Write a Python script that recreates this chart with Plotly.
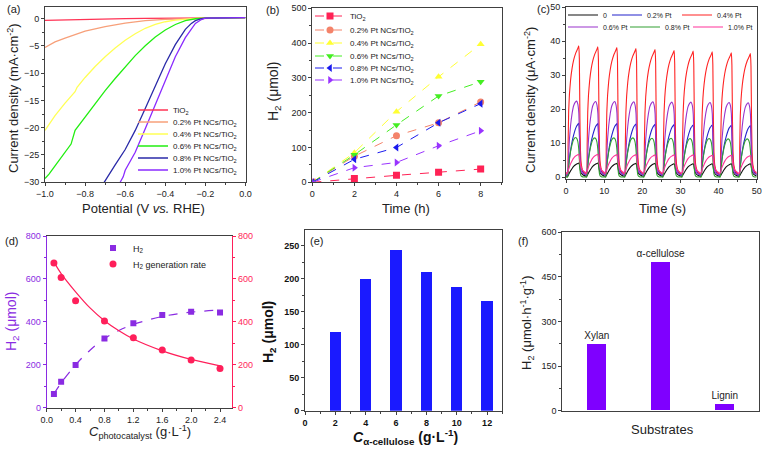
import plotly.graph_objects as go

W, H = 767, 450
FONT = "Liberation Sans, Arial, sans-serif"
AXC = "#404040"

# ---------------- (a) LSV curves ----------------
lsv_names = ["TiO<sub>2</sub>", "0.2% Pt NCs/TiO<sub>2</sub>", "0.4% Pt NCs/TiO<sub>2</sub>",
             "0.6% Pt NCs/TiO<sub>2</sub>", "0.8% Pt NCs/TiO<sub>2</sub>", "1.0% Pt NCs/TiO<sub>2</sub>"]
lsv_colors = ["#ff3355", "#f7a07a", "#ffff55", "#22ee11", "#2a2aa8", "#8a2bff"]
pot_tio2 = [-1.0, -0.9, -0.8, -0.7, -0.6, -0.5, -0.4, -0.2, 0.0]
j_tio2 = [-0.35, -0.25, -0.15, -0.08, -0.03, 0.0, 0.05, 0.1, 0.15]
pot_02 = [-1.0, -0.95, -0.9, -0.85, -0.8, -0.75, -0.7, -0.6, -0.5, -0.4, -0.3, -0.2, 0.0]
j_02 = [-5.3, -4.3, -3.6, -2.9, -2.3, -1.9, -1.5, -0.85, -0.4, -0.15, -0.05, 0.05, 0.15]
pot_04 = [-1.0, -0.95, -0.9, -0.85, -0.84, -0.8, -0.75, -0.7, -0.65, -0.6, -0.55, -0.5, -0.45, -0.4,
          -0.35, -0.3, -0.25, -0.2, 0.0]
j_04 = [-20.5, -17.8, -15.5, -13.4, -12.6, -10.8, -8.8, -7.0, -5.4, -4.0, -2.8, -1.8, -1.1, -0.6,
        -0.3, -0.1, 0.0, 0.05, 0.15]
pot_06 = [-1.0, -0.98, -0.95, -0.9, -0.87, -0.85, -0.8, -0.75, -0.7, -0.65, -0.6, -0.55, -0.5,
          -0.45, -0.4, -0.35, -0.3, -0.25, -0.2, 0.0]
j_06 = [-29.3, -28.5, -27.0, -24.5, -23.0, -20.5, -18.0, -15.5, -13.2, -11.0, -8.8, -6.8, -5.0,
        -3.4, -2.1, -1.1, -0.4, -0.05, 0.05, 0.15]
pot_08 = [-0.705, -0.68, -0.65, -0.6, -0.55, -0.5, -0.45, -0.4, -0.35, -0.3, -0.27, -0.25, -0.22, -0.2, 0.0]
j_08 = [-30.0, -28.5, -26.8, -24.0, -20.5, -16.5, -12.5, -8.3, -4.8, -2.0, -0.9, -0.4, -0.05, 0.05, 0.15]
pot_10 = [-0.625, -0.61, -0.6, -0.55, -0.5, -0.45, -0.4, -0.35, -0.3, -0.27, -0.25, -0.22, -0.2, 0.0]
j_10 = [-30.0, -29.0, -27.8, -24.5, -20.2, -15.8, -11.2, -7.0, -3.5, -1.8, -0.9, -0.2, 0.05, 0.15]
lsv_x = [pot_tio2, pot_02, pot_04, pot_06, pot_08, pot_10]
lsv_y = [j_tio2, j_02, j_04, j_06, j_08, j_10]

# ---------------- (b) H2 vs time ----------------
time_h = [0, 2, 4, 6, 8]
h2_time = [
    [0, 11, 20, 29, 38],
    [0, 75, 134, 171, 231],
    [0, 85, 203, 303, 397],
    [0, 79, 165, 248, 289],
    [0, 66, 100, 171, 226],
    [0, 42, 57, 105, 148],
]
b_colors = ["#ff2255", "#f4836a", "#ffff33", "#44ee22", "#1a1aee", "#9933ff"]
b_symbols = ["square", "circle", "triangle-up", "triangle-down", "triangle-left", "triangle-right"]

# ---------------- (c) transient photocurrent ----------------
c_names = ["0", "0.2% Pt", "0.4% Pt", "0.6% Pt", "0.8% Pt", "1.0% Pt"]
c_colors = ["#111111", "#2222cc", "#ff2222", "#9933cc", "#33a033", "#ff3399"]
cycle_period = 5.0
cycle_offsets = [0.0, 0.4, 0.55, 0.7, 0.9, 1.2, 1.6, 2.0, 2.5, 2.8, 3.1, 3.35, 3.5, 3.65, 3.8, 4.0, 4.4]
shape_black = [0.10, 0.08, 0.12, 0.20, 0.30, 0.45, 0.62, 0.76, 0.88, 0.93, 0.97, 1.0, 0.90, 0.65, 0.45, 0.30, 0.18]
shape_blue = [0.05, 0.04, 0.10, 0.22, 0.35, 0.50, 0.66, 0.78, 0.90, 0.95, 0.98, 1.0, 0.85, 0.50, 0.30, 0.18, 0.10]
shape_red = [0.03, 0.02, 0.25, 0.50, 0.63, 0.74, 0.83, 0.89, 0.94, 0.96, 0.98, 1.0, 0.90, 0.45, 0.20, 0.10, 0.05]
shape_purple = [0.04, 0.03, 0.12, 0.30, 0.50, 0.68, 0.84, 0.94, 0.99, 1.0, 0.96, 0.85, 0.60, 0.30, 0.15, 0.08, 0.05]
shape_green = [0.01, 0.0, 0.08, 0.25, 0.45, 0.65, 0.83, 0.95, 1.0, 0.98, 0.90, 0.70, 0.45, 0.20, 0.08, 0.03, 0.01]
shape_pink = [0.22, 0.18, 0.25, 0.35, 0.45, 0.58, 0.72, 0.83, 0.92, 0.95, 0.98, 1.0, 0.90, 0.70, 0.55, 0.42, 0.30]
c_shapes = [shape_black, shape_blue, shape_red, shape_purple, shape_green, shape_pink]
peaks_black = [4.2, 4.2, 4.1, 4.1, 4.1, 4.0, 4.0, 4.0, 4.0, 4.0]
peaks_blue = [15.9, 15.8, 15.8, 15.7, 15.6, 15.5, 15.4, 15.4, 15.3, 15.2]
peaks_red = [38.7, 38.4, 38.2, 37.9, 37.6, 37.3, 37.1, 36.9, 36.6, 36.4]
peaks_purple = [22.4, 22.3, 22.3, 22.2, 22.2, 22.1, 22.1, 22.0, 22.0, 21.9]
peaks_green = [11.7, 11.6, 11.6, 11.6, 11.5, 11.5, 11.4, 11.4, 11.3, 11.3]
peaks_pink = [6.8, 6.8, 6.7, 6.7, 6.6, 6.6, 6.6, 6.5, 6.5, 6.4]
c_peaks = [peaks_black, peaks_blue, peaks_red, peaks_purple, peaks_green, peaks_pink]

# ---------------- (d) catalyst concentration ----------------
c_cat = [0.1, 0.2, 0.4, 0.8, 1.2, 1.6, 2.0, 2.4]
h2_cat = [64, 121, 199, 323, 393, 432, 447, 444]
rate_cat = [674, 607, 498, 404, 326, 269, 222, 183]
fit_c = [0.1, 0.2, 0.4, 0.6, 0.8, 1.0, 1.2, 1.6, 2.0, 2.4]
fit_h2 = [65, 115, 200, 268, 322, 360, 388, 425, 445, 455]
fit_rate = [678, 625, 540, 465, 405, 358, 320, 265, 225, 195]

# ---------------- (e) cellulose concentration ----------------
c_cell = [2, 4, 6, 8, 10, 12]
h2_cell = [120, 200, 243, 210, 188, 167]

# ---------------- (f) substrates ----------------
substrates = ["Xylan", "α-cellulose", "Lignin"]
h2_sub = [222, 500, 20]


def xdom(x0, x1):
    return [x0 / W, x1 / W]


def ydom(top, bottom):
    return [1 - bottom / H, 1 - top / H]


def axis(**kw):
    d = dict(showline=True, linecolor=AXC, linewidth=1, mirror=True, ticks="outside",
             ticklen=3, tickwidth=1, tickcolor=AXC, showgrid=False, zeroline=False,
             automargin=False,
             tickfont=dict(size=9, family=FONT, color="#222"),
             minor=dict(ticks="outside", ticklen=2, tickcolor=AXC))
    d.update(kw)
    return d


fig = go.Figure()
legend_defs = {}
leg_counter = [0]


def new_legend(x_px, y_px, size=8):
    leg_counter[0] += 1
    name = "legend" if leg_counter[0] == 1 else "legend%d" % leg_counter[0]
    legend_defs[name] = dict(x=x_px / W, y=1 - y_px / H, xanchor="left", yanchor="middle",
                             xref="paper", yref="paper", bgcolor="rgba(0,0,0,0)", borderwidth=0,
                             font=dict(size=size, family=FONT, color="#222"), itemwidth=30,
                             tracegroupgap=0)
    return name


# (a)
a_rows = [110, 122, 134, 146, 158, 170]
for i in range(6):
    fig.add_trace(go.Scatter(x=lsv_x[i], y=lsv_y[i], mode="lines", name=lsv_names[i],
                             line=dict(color=lsv_colors[i], width=1.3),
                             xaxis="x", yaxis="y", legend=new_legend(133, a_rows[i], 8)))

# (b)
b_rows = [16, 30, 43, 56, 68, 80]
for i in range(6):
    fig.add_trace(go.Scatter(x=time_h, y=h2_time[i], mode="lines+markers", name=lsv_names[i],
                             line=dict(color=b_colors[i], width=1, dash="dash"),
                             marker=dict(symbol=b_symbols[i], size=7, color=b_colors[i]),
                             xaxis="x2", yaxis="y2", legend=new_legend(310, b_rows[i], 8)))

# (c)
c_leg_pos = [(563, 15), (607, 15), (677, 15), (563, 27), (625, 27), (688, 27)]
for i in range(6):
    tx, ty = [], []
    for k, pk in enumerate(c_peaks[i]):
        for off, s in zip(cycle_offsets, c_shapes[i]):
            tx.append(k * cycle_period + off)
            ty.append(pk * s)
    tx.append(50.0)
    ty.append(c_peaks[i][-1] * c_shapes[i][0])
    fig.add_trace(go.Scatter(x=tx, y=ty, mode="lines", name=c_names[i],
                             line=dict(color=c_colors[i], width=1.1, shape="spline", smoothing=0.4),
                             xaxis="x3", yaxis="y3",
                             legend=new_legend(c_leg_pos[i][0], c_leg_pos[i][1], 7)))

# (d)
PUR = "#8a2be2"
PNK = "#ff1f5a"
fig.add_trace(go.Scatter(x=fit_c, y=fit_h2, mode="lines", showlegend=False,
                         line=dict(color=PUR, width=1.2, dash="dash", shape="spline"),
                         xaxis="x4", yaxis="y4"))
fig.add_trace(go.Scatter(x=fit_c, y=fit_rate, mode="lines", showlegend=False,
                         line=dict(color=PNK, width=1.2, shape="spline"), xaxis="x4", yaxis="y7"))
fig.add_trace(go.Scatter(x=c_cat, y=h2_cat, mode="markers", name="H<sub>2</sub>",
                         marker=dict(symbol="square", size=6, color=PUR),
                         xaxis="x4", yaxis="y4", legend=new_legend(93, 248, 9)))
fig.add_trace(go.Scatter(x=c_cat, y=rate_cat, mode="markers", name="H<sub>2</sub> generation rate",
                         marker=dict(symbol="circle", size=7, color=PNK),
                         xaxis="x4", yaxis="y7", legend=new_legend(93, 264, 9)))

# (e)
fig.add_trace(go.Bar(x=c_cell, y=h2_cell, width=0.75, marker=dict(color="#1a1aff", line=dict(width=0)),
                     showlegend=False, xaxis="x5", yaxis="y5"))

# (f)
fig.add_trace(go.Bar(x=substrates, y=h2_sub, width=0.3, text=substrates, textposition="outside",
                     constraintext="none", textangle=0,
                     textfont=dict(size=10, family=FONT, color="#222"), cliponaxis=False,
                     marker=dict(color="#7f00ff", line=dict(width=0)),
                     showlegend=False, xaxis="x6", yaxis="y6"))

layout = dict(
    width=W, height=H, margin=dict(l=0, r=0, t=0, b=0, pad=0, autoexpand=False),
    paper_bgcolor="white", plot_bgcolor="white",
    font=dict(family=FONT, color="#222"),
    bargap=0,
    uniformtext=dict(mode=False),
    xaxis=axis(domain=xdom(45, 245.5), anchor="y", range=[-1.0, 0.0], dtick=0.2, tickformat=".1f",
               minor=dict(ticks="outside", ticklen=2, tickcolor=AXC, dtick=0.1)),
    yaxis=axis(domain=ydom(7, 182.3), anchor="x", range=[-30, 2.1], dtick=5,
               minor=dict(ticks="outside", ticklen=2, tickcolor=AXC, dtick=2.5)),
    xaxis2=axis(domain=xdom(312.3, 501.7), anchor="y2", range=[0, 9], dtick=2,
                minor=dict(ticks="outside", ticklen=2, tickcolor=AXC, dtick=1)),
    yaxis2=axis(domain=ydom(8.3, 182.3), anchor="x2", range=[0, 500], dtick=100,
                minor=dict(ticks="outside", ticklen=2, tickcolor=AXC, dtick=50)),
    xaxis3=axis(domain=xdom(566, 756.7), anchor="y3", range=[0, 50], dtick=10,
                minor=dict(ticks="outside", ticklen=2, tickcolor=AXC, dtick=5)),
    yaxis3=axis(domain=ydom(7.3, 179), anchor="x3", range=[-0.5, 50], dtick=10,
                minor=dict(ticks="outside", ticklen=2, tickcolor=AXC, dtick=5)),
    xaxis4=axis(domain=xdom(46.7, 232.3), anchor="y4", range=[0, 2.57], dtick=0.4, tickformat=".1f",
                minor=dict(ticks="outside", ticklen=2, tickcolor=AXC, dtick=0.2)),
    yaxis4=axis(domain=ydom(236, 407.7), anchor="x4", range=[0, 800], dtick=200, mirror=False,
                linecolor=PUR, tickcolor=PUR, tickfont=dict(size=9, family=FONT, color=PUR),
                minor=dict(ticks="outside", ticklen=2, tickcolor=PUR, dtick=100)),
    yaxis7=axis(domain=ydom(236, 407.7), anchor="x4", overlaying="y4", side="right", range=[0, 800],
                dtick=200, mirror=False, linecolor=PNK, tickcolor=PNK,
                tickfont=dict(size=9, family=FONT, color=PNK),
                minor=dict(ticks="outside", ticklen=2, tickcolor=PNK, dtick=100)),
    xaxis5=axis(domain=xdom(305, 502.3), anchor="y5", range=[0, 13], dtick=2,
                tickfont=dict(size=9, family=FONT, color="#111", weight="bold"),
                minor=dict(ticks="outside", ticklen=2, tickcolor=AXC, dtick=1)),
    yaxis5=axis(domain=ydom(230, 410.7), anchor="x5", range=[0, 274], dtick=50,
                tickfont=dict(size=9, family=FONT, color="#111", weight="bold"),
                minor=dict(ticks="outside", ticklen=2, tickcolor=AXC, dtick=25)),
    xaxis6=axis(domain=xdom(562.3, 759), anchor="y6", range=[-0.54, 2.54], showticklabels=False,
                ticks="", minor=dict(ticks="")),
    yaxis6=axis(domain=ydom(232.3, 410.7), anchor="x6", range=[0, 600], dtick=150,
                minor=dict(ticks="outside", ticklen=2, tickcolor=AXC, dtick=75)),
)
layout.update(legend_defs)


def ann(text, x_px, y_px, size=12, angle=0, color="#222", xanchor="center"):
    return dict(text=text, x=x_px / W, y=1 - y_px / H, xref="paper", yref="paper",
                showarrow=False, textangle=angle, xanchor=xanchor, yanchor="middle",
                font=dict(size=size, family=FONT, color=color))


annotations = [
    ann("(a)", 13, 9, 11), ann("(b)", 272, 10, 11), ann("(c)", 543, 9, 11),
    ann("(d)", 11, 241, 11), ann("(e)", 316, 241, 11), ann("(f)", 523, 241, 11),
    ann("Current density (mA·cm<sup>-2</sup>)", 13, 98, 13, -90),
    ann("Potential (V <i>vs.</i> RHE)", 143, 208, 13),
    ann("H<sub>2</sub> (μmol)", 274, 92, 14, -90),
    ann("Time (h)", 406, 208, 13),
    ann("Current density (μA·cm<sup>-2</sup>)", 530, 100, 13, -90),
    ann("Time (s)", 662, 208, 13),
    ann("H<sub>2</sub> (μmol)", 12, 322, 14, -90, PUR),
    ann("<i>C</i><sub>photocatalyst</sub> (g·L<sup>-1</sup>)", 140, 432, 13),
    ann("<b>H<sub>2</sub> (μmol)</b>", 269, 332, 14, -90, "#111"),
    ann("<b><i>C</i><sub>α-cellulose</sub> (g·L<sup>-1</sup>)</b>", 405, 437, 14, 0, "#111"),
    ann("H<sub>2</sub> (μmol·h<sup>-1</sup>·g<sup>-1</sup>)", 527, 323, 13, -90),
    ann("Substrates", 662, 429, 13),
]
layout["annotations"] = annotations

fig.update_layout(**layout)
fig.write_html(
    "out.html",
    config={"displayModeBar": False},
    post_script="document.body.style.margin='0px';document.body.style.overflow='hidden';",
)
